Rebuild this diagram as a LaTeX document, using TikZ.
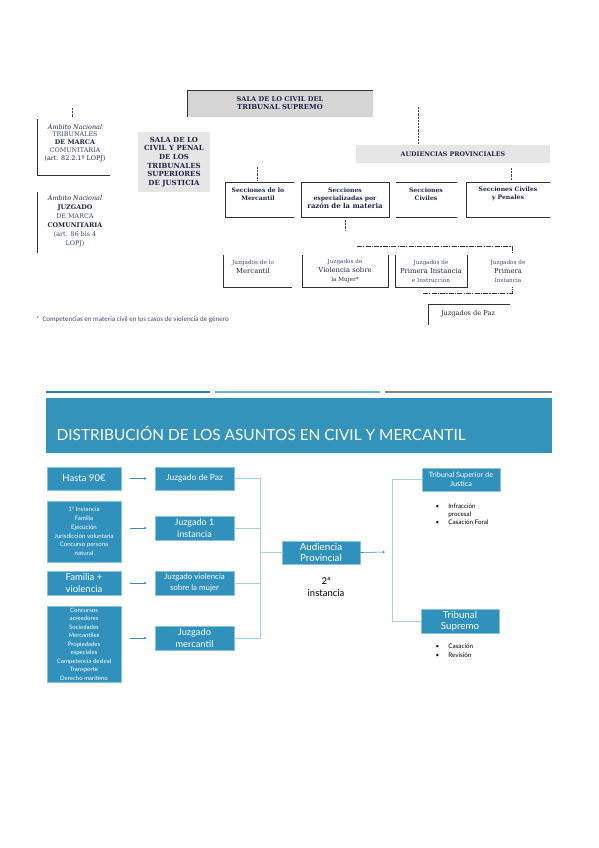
\documentclass[tikz,border=0pt]{standalone}
\usepackage{fontspec}
\newfontfamily\sfont{DejaVu Serif}
\newfontfamily\gfont{Lato}
\newfontfamily\cfont{Carlito}
\usetikzlibrary{arrows.meta}
\definecolor{navy}{HTML}{1E2648}
\definecolor{slate}{HTML}{3E4C74}
\definecolor{grayTS}{HTML}{D5D5D5}
\definecolor{grayL}{HTML}{E6E6E6}
\definecolor{boxblue}{HTML}{3091BC}
\definecolor{boxedge}{HTML}{8CC2DC}
\definecolor{bannerc}{HTML}{3393BA}
\definecolor{brkc}{HTML}{A6CEE2}
\definecolor{arrc}{HTML}{3A8DBB}
\definecolor{barA}{HTML}{2C80B0}
\definecolor{barB}{HTML}{63B9C9}
\definecolor{barC}{HTML}{7D8B8E}
\newcommand\tsS{\fontsize{5.7}{9}\selectfont}
\newcommand\tsM{\fontsize{6.8}{9}\selectfont}
\begin{document}
\begin{tikzpicture}[x=1pt,y=-1pt,
  edge/.style={draw=black!80, line width=0.75pt},
  dsh/.style={draw=black!72, line width=0.7pt, dash pattern=on 2.2pt off 1pt},
  dshdot/.style={draw=black!78, line width=0.7pt, dash pattern=on 5pt off 1.2pt on 1.2pt off 1.2pt},
  tt/.style={align=center, inner sep=0pt, text=navy},
  bbox/.style={fill=boxblue, draw=boxedge, line width=0.7pt, text=white, align=center, inner sep=1pt, font=\gfont},
  brk/.style={draw=brkc, line width=0.8pt},
  arr/.style={draw=arrc, line width=0.6pt, -{Stealth[length=2.6pt,width=2.6pt]}},
  bul/.style={align=left, inner sep=0pt, anchor=north west, text=black}
]
\useasboundingbox (0,0) rectangle (599,848);
\fill[white] (0,0) rectangle (599,848);

% ================= TOP CHART =================
% Sala de lo Civil del Tribunal Supremo
\fill[grayTS] (187,90) rectangle (373,117);
\draw[edge] (187,117) -- (187,90) -- (373,90);
\node[tt, font=\sfont\bfseries\fontsize{6.6}{8.2}\selectfont] (salats) at (280,103) {SALA DE LO CIVIL DEL\\\fontsize{6.9}{8.2}\selectfont TRIBUNAL SUPREMO};

% Audiencias provinciales
\node[fill=grayL, minimum width=194, minimum height=18, inner sep=0pt, text=navy,
      font=\sfont\bfseries\fontsize{6.3}{7}\selectfont] (aud) at (453,154) {AUDIENCIAS PROVINCIALES};
\coordinate (tsdown) at (418,107);
\draw[dsh] (tsdown) -- (tsdown |- aud.north);

% left column
\coordinate (lm1) at (72,108);
\draw[dsh] (lm1) -- ++(0,9);
\draw[edge] (37,119) -- (37,175) -- (110,175);
\node[tt, font=\sfont\fontsize{6.4}{7.9}\selectfont] (tmarca) at (75,142.5)
 {\textit{Ámbito Nacional}\\\textcolor{slate}{TRIBUNALES}\\\textbf{DE MARCA}\\\textcolor{slate}{COMUNITARIA}\\(art. 82.2.1º LOPJ)};
\draw[edge] (37,192) -- (37,253);
\node[tt, font=\sfont\fontsize{6.4}{9}\selectfont] (jmarca) at (75,220.5)
 {\textit{Ámbito Nacional}\\\textbf{JUZGADO}\\\textcolor{slate}{DE MARCA}\\\textbf{COMUNITARIA}\\\textcolor{slate}{(art. 86 bis 4}\\\textcolor{slate}{LOPJ)}};

% Sala de lo Civil y Penal de los TSJ
\node[fill=grayL, minimum width=72, minimum height=60, inner sep=0pt, tt,
      font=\sfont\bfseries\fontsize{7}{8.6}\selectfont] (salatsj) at (174,162)
 {SALA DE LO\\CIVIL Y PENAL\\DE LOS\\TRIBUNALES\\SUPERIORES\\DE JUSTICIA};

% Secciones row
\draw[edge] (294,182) -- (225,182) -- (225,217) -- (294,217);
\draw[edge] (301,182) rectangle (389,217);
\draw[edge] (396,182) -- (457,182);
\draw[edge] (396,217) -- (457,217);
\draw[edge] (550,182) -- (466,182) -- (466,217) -- (550,217);
\node[tt, font=\sfont\bfseries\fontsize{6.1}{8}\selectfont] (smerc) at (258,194) {Secciones de lo\\Mercantil};
\node[tt, font=\sfont\bfseries\fontsize{6.1}{8}\selectfont] (sesp) at (345,198) {Secciones\\especializadas por\\\fontsize{6.9}{8}\selectfont razón de la materia};
\node[tt, font=\sfont\bfseries\fontsize{6.1}{8}\selectfont] (sciv) at (426,194) {Secciones\\Civiles};
\node[tt, font=\sfont\bfseries\fontsize{6.1}{8}\selectfont] (spen) at (508,194) {Secciones Civiles\\y Penales};
\coordinate (c1) at (257,167);
\draw[dsh] (c1) -- ++(0,13);
\coordinate (c2) at (511,168);
\draw[dsh] (c2) -- ++(0,12);
\coordinate (c3) at (345,220);
\draw[dsh] (c3) -- ++(0,11);

% Juzgados row
\draw[dshdot] (357,246) -- (512,246) -- (512,253);
\draw[edge] (223,255) -- (223,287) -- (292,287);
\draw[edge] (302,255) -- (302,287) -- (388,287) -- (388,255);
\draw[edge] (395,255) -- (395,287) -- (467,287) -- (467,255);
\draw[dshdot] (423,293) -- (512,293) -- (512,287);
\node[tt, font=\sfont\tsM] (jmerc) at (253,266.5) {\textcolor{slate}{\tsS Juzgados de lo}\\Mercantil};
\node[tt, font=\sfont\tsM] (jviol) at (345,271) {\textcolor{slate}{\tsS Juzgados de}\\Violencia sobre\\{\tsS la Mujer*}};
\node[tt, font=\sfont\tsM] (jpii) at (431,271) {\textcolor{slate}{\tsS Juzgados de}\\Primera Instancia\\\textcolor{slate}{\tsS e Instrucción}};
\node[tt, font=\sfont\tsM] (jpi) at (508,271) {\textcolor{slate}{\tsS Juzgados de}\\Primera\\\textcolor{slate}{\tsS Instancia}};
\draw[edge] (510,304) -- (428,304) -- (428,325);
\node[tt, font=\sfont\fontsize{6.6}{7}\selectfont] (jpaz) at (468,314) {Juzgados de Paz};

% footnote
\node[anchor=west, inner sep=0pt, text=slate, font=\cfont\fontsize{7}{8}\selectfont] (foot) at (36,320)
 {*\hspace{3pt}Competencias en materia civil en los casos de violencia de género};

% ================= BOTTOM SLIDE =================
\fill[barA] (46,390.8) rectangle (210,393.2);
\fill[barB] (215,390.8) rectangle (380,393.2);
\fill[barC] (385,390.8) rectangle (552,393.2);
\fill[bannerc] (46,398) rectangle (552,453);
\node[anchor=base west, inner sep=0pt, text=white, font=\gfont\fontsize{15.4}{18}\selectfont] (title) at (56.5,440.5)
 {DISTRIBUCIÓN DE LOS ASUNTOS EN CIVIL Y MERCANTIL};

% left boxes
\node[bbox, minimum width=74, minimum height=23, font=\gfont\fontsize{9.5}{10}\selectfont] (hasta) at (84,478.5) {Hasta 90€};
\node[bbox, minimum width=74, minimum height=61, font=\gfont\fontsize{6.1}{8.8}\selectfont] (inst) at (84,531.5)
 {1ª Instancia\\Familia\\Ejecución\\Jurisdicción voluntaria\\Concurso persona\\natural};
\node[bbox, minimum width=74, minimum height=24, font=\gfont\fontsize{9.5}{11.5}\selectfont] (fam) at (84,583) {Familia +\\violencia};
\node[bbox, minimum width=74, minimum height=76, font=\gfont\fontsize{6}{8.5}\selectfont] (conc) at (84,644)
 {Concursos\\acreedores\\Sociedades\\Mercantiles\\Propiedades\\especiales\\Competencia desleal\\Transporte\\Derecho marítimo};

% middle boxes
\node[bbox, minimum width=79, minimum height=23, font=\gfont\fontsize{8.5}{10}\selectfont] (paz) at (194.5,478.5) {Juzgado de Paz};
\node[bbox, minimum width=79, minimum height=24, font=\gfont\fontsize{9}{11.5}\selectfont] (juz1) at (194.5,528) {Juzgado 1\\instancia};
\node[bbox, minimum width=79, minimum height=24, font=\gfont\fontsize{7.9}{10.5}\selectfont] (viol) at (194.5,583) {Juzgado violencia\\sobre la mujer};
\node[bbox, minimum width=79, minimum height=24, font=\gfont\fontsize{9.3}{11.5}\selectfont] (merc) at (194.5,638) {Juzgado\\mercantil};

% arrows left -> middle
\draw[arr, shorten <=9pt, shorten >=8pt] (hasta.east |- paz.west) -- (paz.west);
\draw[arr, shorten <=9pt, shorten >=8pt] (inst.east |- juz1.west) -- (juz1.west);
\draw[arr, shorten <=9pt, shorten >=8pt] (fam.east |- viol.west) -- (viol.west);
\draw[arr, shorten <=9pt, shorten >=8pt] (conc.east |- merc.west) -- (merc.west);

% Audiencia provincial
\node[bbox, minimum width=78, minimum height=23, font=\gfont\fontsize{9.8}{11.5}\selectfont] (ap) at (321,552.5) {Audiencia\\Provincial};
\node[align=center, inner sep=0pt, text=black, font=\gfont\fontsize{9.5}{12}\selectfont] (seg) at (326,587) {2ª\\instancia};

% left bracket
\coordinate (bx) at (260,550);
\draw[brk] (paz.east) -- (paz.east -| bx) -- (merc.east -| bx) -- (merc.east);
\draw[brk] (juz1.east) -- (juz1.east -| bx);
\draw[brk] (viol.east) -- (viol.east -| bx);
\draw[brk] (bx |- ap.west) -- (ap.west);

% right side
\node[bbox, minimum width=78, minimum height=23, font=\gfont\fontsize{7.3}{9}\selectfont] (tsj) at (461,479.5) {Tribunal Superior de\\Justica};
\node[bbox, minimum width=78, minimum height=24, font=\gfont\fontsize{9.8}{11.5}\selectfont] (ts) at (460,621) {Tribunal\\Supremo};
\coordinate (rb) at (392,552);
\coordinate (apend) at (385,552);
\draw[arr] (ap.east) -- (apend);
\draw[brk] (tsj.west) -- (tsj.west -| rb) -- (ts.west -| rb) -- (ts.west);

\node[bul, font=\gfont\fontsize{6.3}{8}\selectfont] (tsjlist) at (435.5,503)
 {\begin{tabular}{@{}l@{\hspace{9pt}}l@{}}\textbullet & Infracción\\ & procesal\\ \textbullet & Casación Foral\end{tabular}};
\node[bul, font=\gfont\fontsize{6.3}{9}\selectfont] (tslist) at (435.5,642)
 {\begin{tabular}{@{}l@{\hspace{9pt}}l@{}}\textbullet & Casación\\ \textbullet & Revisión\end{tabular}};
\end{tikzpicture}
\end{document}
